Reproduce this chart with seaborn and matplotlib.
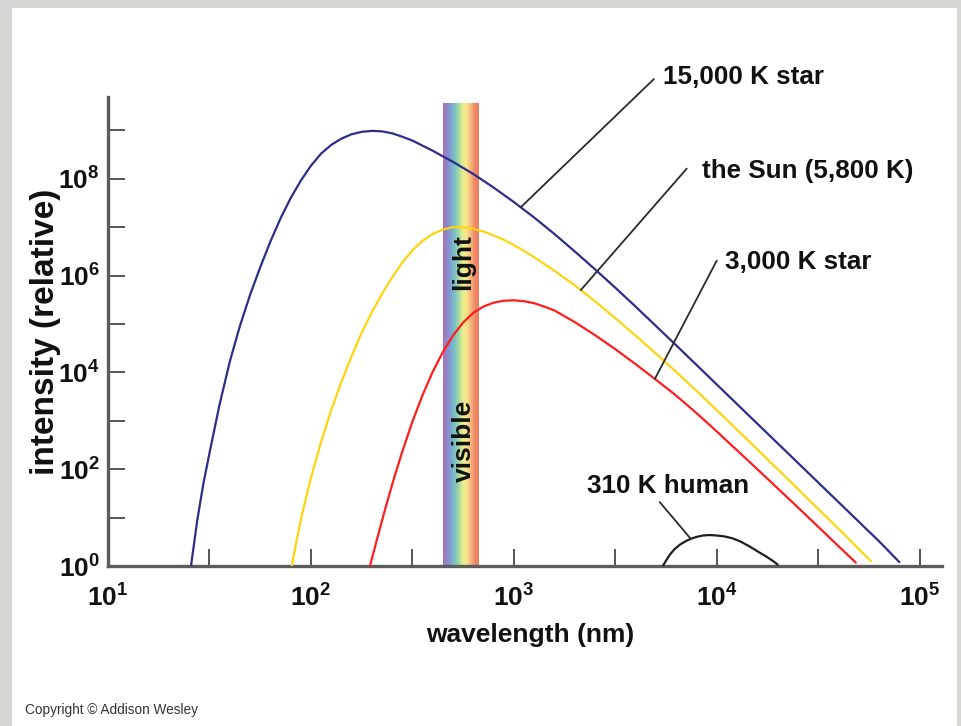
import numpy as np
import pandas as pd
import matplotlib
matplotlib.use("Agg")
import matplotlib.pyplot as plt
from matplotlib.colors import LinearSegmentedColormap
from matplotlib.patches import Rectangle
from matplotlib.ticker import NullFormatter
import seaborn as sns

# ---- blackbody curves: log10(wavelength / nm) and log10(relative intensity) ----
star_15000_log_wl = [1.409, 1.44, 1.47, 1.50, 1.55, 1.60, 1.65, 1.70, 1.75, 1.80, 1.85,
                     1.90, 1.95, 2.00, 2.05, 2.10, 2.15, 2.20, 2.25, 2.30, 2.35, 2.40,
                     2.45, 2.50, 2.60, 2.70, 2.80, 2.90, 3.00, 3.10, 3.20, 3.30, 3.40,
                     3.50, 3.60, 3.70, 3.80, 4.00, 4.20, 4.40, 4.60, 4.80, 4.90]
star_15000_log_i = [0.00, 0.95, 1.70, 2.33, 3.34, 4.22, 4.96, 5.60, 6.17, 6.70, 7.18,
                    7.60, 7.96, 8.27, 8.52, 8.70, 8.83, 8.92, 8.97, 8.99, 8.98, 8.94,
                    8.87, 8.79, 8.58, 8.35, 8.10, 7.82, 7.52, 7.20, 6.86, 6.50, 6.13,
                    5.75, 5.36, 4.96, 4.56, 3.75, 2.94, 2.13, 1.32, 0.51, 0.08]

sun_log_wl = [1.906, 1.93, 1.96, 2.00, 2.05, 2.10, 2.15, 2.20, 2.25, 2.30, 2.35, 2.40,
              2.45, 2.50, 2.55, 2.60, 2.65, 2.70, 2.75, 2.80, 2.85, 2.90, 2.95, 3.00,
              3.05, 3.10, 3.20, 3.30, 3.40, 3.50, 3.60, 3.70, 3.80, 3.90, 4.00, 4.20,
              4.40, 4.60, 4.76]
sun_log_i = [0.00, 0.55, 1.13, 1.82, 2.56, 3.22, 3.80, 4.33, 4.82, 5.24, 5.62, 5.96,
             6.27, 6.52, 6.72, 6.86, 6.95, 7.00, 7.00, 6.97, 6.91, 6.83, 6.74, 6.63,
             6.51, 6.38, 6.10, 5.80, 5.47, 5.12, 4.76, 4.39, 4.01, 3.62, 3.22, 2.41,
             1.59, 0.77, 0.10]

star_3000_log_wl = [2.291, 2.33, 2.37, 2.41, 2.45, 2.50, 2.55, 2.60, 2.65, 2.70, 2.75,
                    2.80, 2.85, 2.90, 2.95, 3.00, 3.05, 3.10, 3.15, 3.20, 3.30, 3.40,
                    3.50, 3.60, 3.70, 3.80, 3.90, 4.00, 4.20, 4.40, 4.60, 4.685]
star_3000_log_i = [0.00, 0.62, 1.24, 1.82, 2.36, 2.98, 3.53, 4.01, 4.42, 4.76, 5.03,
                   5.23, 5.36, 5.44, 5.48, 5.49, 5.47, 5.43, 5.36, 5.28, 5.04, 4.77,
                   4.48, 4.17, 3.85, 3.52, 3.16, 2.78, 2.00, 1.21, 0.41, 0.07]

human_log_wl = [3.734, 3.75, 3.768, 3.79, 3.818, 3.85, 3.877, 3.90, 3.931, 3.965, 4.000,
                4.04, 4.079, 4.12, 4.163, 4.21, 4.246, 4.275, 4.300]
human_log_i = [0.00, 0.11, 0.23, 0.34, 0.44, 0.52, 0.57, 0.60, 0.63, 0.64, 0.63,
               0.61, 0.57, 0.50, 0.40, 0.28, 0.19, 0.11, 0.03]

series_names = ["15,000 K star", "the Sun (5,800 K)", "3,000 K star", "310 K human"]
series_colors = ["#2c2e88", "#ffd40f", "#ff1e1e", "#1e1e1e"]
series_log_wl = [star_15000_log_wl, sun_log_wl, star_3000_log_wl, human_log_wl]
series_log_i = [star_15000_log_i, sun_log_i, star_3000_log_i, human_log_i]

x_tick_exponents = [1, 2, 3, 4, 5]
y_tick_exponents = [0, 2, 4, 6, 8]

visible_range_nm = (447, 673)
visible_top = 10 ** 9.57
visible_colors = ["#a474b6", "#8d86c9", "#7ca6d2", "#7cc4c2", "#a6d8a2",
                  "#e6f08e", "#f9e28a", "#f6b77c", "#ef8a6a", "#ec7e62"]

# ---- style ----
sns.set_theme(style="white")
plt.rcParams["font.family"] = ["Liberation Sans", "DejaVu Sans"]
plt.rcParams["font.weight"] = "bold"
plt.rcParams["mathtext.fontset"] = "custom"
plt.rcParams["mathtext.rm"] = "Liberation Sans:bold"
plt.rcParams["mathtext.it"] = "Liberation Sans:bold"
plt.rcParams["mathtext.bf"] = "Liberation Sans:bold"
plt.rcParams["mathtext.sf"] = "Liberation Sans:bold"

W, H = 961, 726
fig = plt.figure(figsize=(W / 100, H / 100), dpi=100)
fig.patch.set_facecolor("#d6d6d2")
fig.add_artist(Rectangle((12 / W, 0), (957 - 12) / W, (H - 8) / H,
                         transform=fig.transFigure, facecolor="white",
                         edgecolor="none", zorder=0))

ax = fig.add_axes([108 / W, 1 - 566 / H, (942 - 108) / W, (566 - 97) / H])
ax.set_facecolor("none")

# ---- curves ----
frames = []
for name, lw_, li_ in zip(series_names, series_log_wl, series_log_i):
    frames.append(pd.DataFrame({
        "wavelength": np.power(10.0, lw_),
        "intensity": np.power(10.0, li_),
        "source": name,
    }))
df = pd.concat(frames, ignore_index=True)

sns.lineplot(data=df, x="wavelength", y="intensity", hue="source",
             palette=dict(zip(series_names, series_colors)), sort=False,
             estimator=None, legend=False, linewidth=1.6, ax=ax, zorder=3)

ax.set_xscale("log")
ax.set_yscale("log")
ax.set_xlim(10, 10 ** 5.11)
ax.set_ylim(1, 10 ** 9.69)

# ---- visible light band ----
band_cmap = LinearSegmentedColormap.from_list("visible", visible_colors)
n_slices = 48
edges = np.logspace(np.log10(visible_range_nm[0]), np.log10(visible_range_nm[1]), n_slices + 1)
for k in range(n_slices):
    ax.fill_between([edges[k], edges[k + 1] * 1.002], 1, visible_top,
                    color=band_cmap(k / (n_slices - 1)), lw=0,
                    antialiased=False, zorder=1)
band_center = np.sqrt(visible_range_nm[0] * visible_range_nm[1]) * 1.03
ax.text(band_center, 10 ** 6.27, "light", rotation=90, ha="center", va="center",
        fontsize=19, fontweight="bold", color="#111111", zorder=4)
ax.text(band_center, 10 ** 2.58, "visible", rotation=90, ha="center", va="center",
        fontsize=19, fontweight="bold", color="#111111", zorder=4)

# ---- axes, ticks ----
ax.set_xticks([10.0 ** e for e in x_tick_exponents],
              labels=[rf"$\mathrm{{10^{{{e}}}}}$" for e in x_tick_exponents])
ax.set_xticks([10.0 ** (e + 0.5) for e in x_tick_exponents[:-1]], minor=True)
ax.set_yticks([10.0 ** e for e in y_tick_exponents],
              labels=[rf"$\mathrm{{10^{{{e}}}}}$" for e in y_tick_exponents])
ax.set_yticks([10.0 ** (e + 1) for e in y_tick_exponents], minor=True)
ax.xaxis.set_minor_formatter(NullFormatter())
ax.yaxis.set_minor_formatter(NullFormatter())
ax.tick_params(which="both", direction="in", length=12, width=1.4,
               bottom=True, left=True, top=False, right=False,
               color="#555555", labelcolor="#111111", labelsize=19)
ax.tick_params(axis="x", which="both", pad=13)
ax.tick_params(axis="y", which="both", pad=6)

sns.despine(ax=ax)
for side in ("left", "bottom"):
    ax.spines[side].set_linewidth(2.4)
    ax.spines[side].set_color("#5c5c5c")

ax.set_xlabel("wavelength (nm)", fontsize=19, fontweight="bold", color="#111111")
ax.xaxis.label.set_verticalalignment("center")
ax.xaxis.set_label_coords((530 - 108) / 834, (566 - 635) / 469)
ax.set_ylabel("intensity (relative)", fontsize=24, fontweight="bold", color="#111111")
ax.yaxis.label.set_verticalalignment("center")
ax.yaxis.set_label_coords((46 - 108) / 834, (566 - 332) / 469)

# ---- curve labels with leader lines ----
callouts = [
    # (series index, anchor log wl, leader end (log wl, log i), text (log wl, log i))
    (0, 3.034, (3.690, 10.06), (3.734, 9.96)),
    (1, 3.330, (3.852, 8.21), (3.926, 8.02)),
    (2, 3.695, (4.000, 6.31), (4.039, 6.14)),
    (3, 3.872, (3.719, 1.32), (3.360, 1.51)),
]
for idx, anchor, end, txt in callouts:
    y_anchor = 10 ** np.interp(anchor, series_log_wl[idx], series_log_i[idx])
    ax.annotate("", xy=(10 ** anchor, y_anchor), xytext=(10 ** end[0], 10 ** end[1]),
                arrowprops=dict(arrowstyle="-", color="#2a2a2a", lw=1.3,
                                shrinkA=0, shrinkB=0),
                annotation_clip=False, zorder=5)
    ax.text(10 ** txt[0], 10 ** txt[1], series_names[idx], ha="left", va="baseline",
            fontsize=18.7, fontweight="bold", color="#111111", clip_on=False)

fig.text(25 / W, 1 - 710 / H, "Copyright \u00a9 Addison Wesley", fontsize=9.8,
         fontweight="normal", color="#333333", va="center", ha="left")

fig.savefig("out.png", dpi=100, facecolor=fig.get_facecolor())
